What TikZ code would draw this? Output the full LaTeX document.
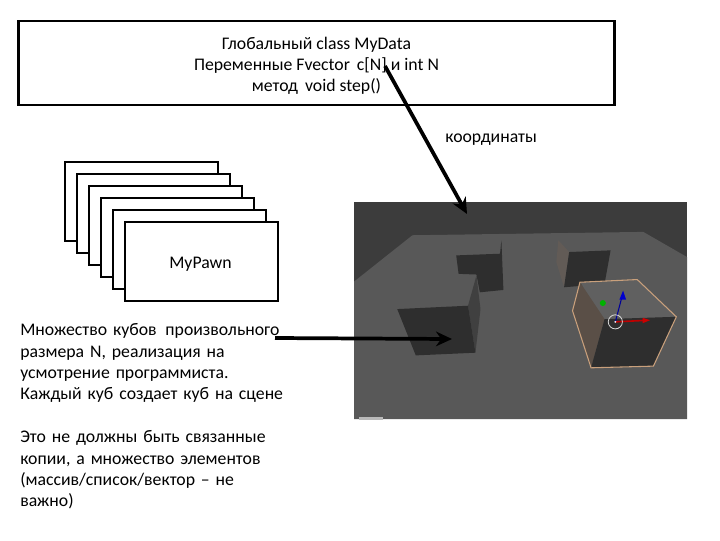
\documentclass[tikz,border=0pt]{standalone}
\usepackage{fontspec}
\setmainfont{Carlito}
\usetikzlibrary{arrows.meta}
\definecolor{skyd}{HTML}{3C3C3C}
\definecolor{floorc}{HTML}{585858}
\definecolor{facedark}{HTML}{2E2E2E}
\definecolor{sidec}{HTML}{404040}
\definecolor{brownc}{HTML}{625B56}
\definecolor{selleft}{HTML}{5A4F47}
\definecolor{seltop}{HTML}{606060}
\definecolor{selline}{HTML}{C9A07C}
\tikzset{
  panel/.style={draw=black,fill=white,line width=1.6pt,minimum width=115pt,minimum height=59.5pt,inner sep=0pt,font=\fontsize{13.3pt}{16pt}\selectfont},
  txt/.style={font=\fontsize{13.3pt}{15.9pt}\selectfont,inner sep=0pt,align=center},
  txtl/.style={font=\fontsize{13.3pt}{16pt}\selectfont,inner sep=0pt,align=left,anchor=north west,text width=225pt},
  bigarrow/.style={draw=black,line width=2.8pt,-{Stealth[length=12pt,width=11pt]}}
}
\begin{document}
\begin{tikzpicture}[x=0.75pt,y=-0.75pt]
\useasboundingbox (0,0) rectangle (720,540);
% top box
\node[draw=black,line width=1.6pt,minimum width=447pt,minimum height=63pt,inner sep=0pt] (data) at (316.5,63) {};
\node[txt] (datatxt) at (316.5,65.5) {Глобальный class MyData\\Переменные Fvector\, c[N] и int N\\метод\, void step()};
\coordinate (cstart) at (385,66);
% stack
\node[panel] (p1) at (141.5,201.5) {};
\node[panel] (p2) at (153.5,213.5) {};
\node[panel] (p3) at (165.5,225.5) {};
\node[panel] (p4) at (177.5,237.5) {};
\node[panel] (p5) at (189.5,249.5) {};
\node[panel] (p6) at (201.5,261.5) {};
\node[txt] (pawnlabel) at (200.5,264) {MyPawn};
% scene, drawn in the coordinates of a crop of it
\begin{scope}[x=0.75pt/2.967,y=-0.75pt/2.98,shift={(350*2.967,195*2.98)}]
\fill[skyd] (12,22) rectangle (1000,668);
\fill[floorc] (185,120) -- (870,110) -- (1000,185) -- (1000,668) -- (12,668) -- (12,258) -- cycle;
% far cube
\fill[facedark] (315,180) -- (445,175) -- (449,135) -- (455,283) -- (385,290) -- (375,237) -- (322,235) -- cycle;
% near cube
\fill[sidec] (350,330) -- (375,240) -- (387,340) -- (372,470) -- cycle;
\fill[facedark] (140,340) -- (350,330) -- (372,470) -- (195,478) -- cycle;
% back right cube
\fill[brownc] (618,135) -- (650,170) -- (635,275) -- (612,200) -- cycle;
\fill[facedark] (650,170) -- (773,165) -- (755,265) -- (635,275) -- cycle;
% selected cube
\fill[seltop] (682,260) -- (852,252) -- (968,363) -- (755,370) -- cycle;
\fill[selleft] (682,260) -- (755,370) -- (715,515) -- (660,345) -- cycle;
\fill[facedark] (755,370) -- (968,363) -- (900,510) -- (715,515) -- cycle;
\draw[selline,line width=0.8pt] (682,260) -- (852,252) -- (968,363) -- (900,510) -- (715,515) -- (660,345) -- cycle;
% gizmo
\draw[red!75!black,line width=1.2pt] (787,378) -- (870,374);
\fill[red!80!black] (868,366) -- (890,373) -- (868,382) -- cycle;
\draw[blue!60!black,line width=0.8pt] (787,378) -- (805,310);
\fill[blue!80!black] (799,312) -- (810,285) -- (819,312) -- cycle;
\fill[green!70!black] (750,322) circle (9);
\draw[white!85!black,line width=0.6pt] (787,378) circle (21);
\fill[white] (787,378) circle (3);
% blurred caption of the screenshot
\fill[gray!55] (28,662) rectangle (98,672);
\end{scope}
\coordinate (sceneTop) at (467,214);
\coordinate (sceneCube) at (452,339);
\coordinate (listEnd) at (275,338);
% labels
\node[txt,anchor=west] (coords) at (445,140) {координаты};
\node[txtl] (desc) at (20,323.5) {Множество кубов\, произвольного\\размера N, реализация на\\усмотрение программиста.\\Каждый куб создает куб на сцене};
\node[txtl] (note) at (20,430.5) {Это не должны быть связанные\\копии, а множество элементов\\(массив/список/вектор – не\\важно)};
% arrows
\draw[bigarrow] (cstart) -- (sceneTop);
\draw[bigarrow] (listEnd) -- (sceneCube);
\end{tikzpicture}
\end{document}
